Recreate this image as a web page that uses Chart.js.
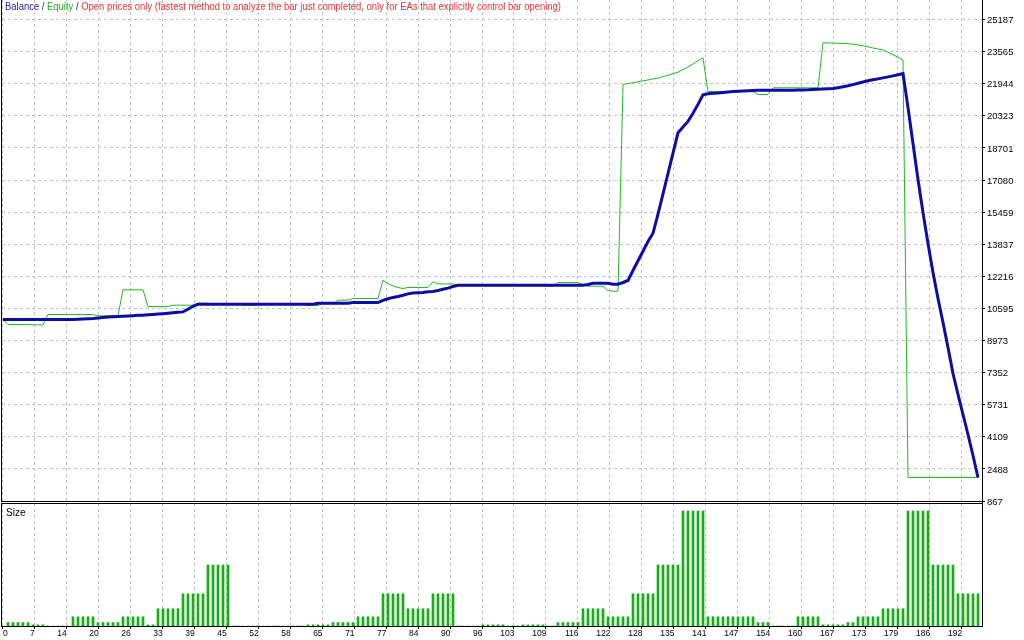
<!DOCTYPE html>
<html><head><meta charset="utf-8">
<script src="https://cdn.jsdelivr.net/npm/chart.js@4.4.1/dist/chart.umd.min.js"></script>
<style>
html,body{margin:0;padding:0;background:#fff;}
#wrap{position:relative;width:1024px;height:640px;overflow:hidden;background:#fff;}
canvas{position:absolute;left:0;}
#main{top:0;}
#size{top:503px;}
</style></head><body>
<div id="wrap"><canvas id="main" width="1024" height="520" style="width:1024px;height:520px"></canvas><canvas id="size" width="1024" height="137" style="width:1024px;height:137px"></canvas></div>
<script>
// ---- data ----
const BALANCE = [
10034,10034,10034,10034,10034,10034,10034,10034,10034,10034,10034,10034,10034,10034,10034,
10045,10060,10075,10085,
10110,10140,10160,10175,10186,
10200,10215,10230,10245,10252,
10270,10290,10310,10330,10353,
10380,10400,10420,
10550,10700,10807,
10807,10807,10807,10807,10807,10807,10807,10807,10807,10807,10807,10807,10807,10807,10807,10807,10807,10807,10807,10807,10807,10807,10807,
10858,10858,10858,10858,10858,10858,10858,
10890,10890,10890,10890,10890,10890,
11000,11080,11150,11200,11260,
11330,11370,11383,11400,11434,
11450,11500,11560,11620,11700,
11767,11767,11767,11767,11767,11767,11767,11767,11767,11767,11767,11767,11767,11767,11767,11767,11767,11767,11767,11767,11767,11767,11767,11767,11767,11767,
11800,
11860,11860,11860,11860,
11820,11820,
11904,12005,12510,13000,13484,13975,14390,
15354,16384,17409,18434,19465,
19753,20041,20450,20900,21380,
21440,21460,21480,21505,21530,21550,21565,21580,21595,21605,
21610,21615,21620,21620,21620,21620,21620,21620,21625,21630,
21635,21650,21665,21680,21690,21703,21745,21790,21840,21900,
21965,22030,22090,22140,22190,22240,22290,22340,22400,22460,
20743,18924,17106,15439,13873,12409,11095,9883,8620,7307,
6246,5236,4226,3165,2054
];
const EQUITY = [
10034,
9781,9781,9781,9781,9781,
9764,9764,9764,
10287,10287,10287,10287,10287,10287,10287,10287,10287,10287,
10220,10220,10220,10220,10220,
11535,11535,11535,11535,11535,
10692,10692,10692,10692,10692,
10757,10757,10757,10757,10757,
10858,10858,10858,
10807,10807,10807,10807,10807,10807,
10757,10757,10757,
10807,10807,10807,10807,10807,10807,10807,10807,10807,10807,
10742,10742,10742,
10828,10828,10828,
11010,11010,11010,
11095,11095,11095,11095,11095,11095,
12020,11850,11730,11650,11600,
11650,11650,11650,11650,11650,
11938,
11830,11830,11830,11830,
11767,11767,11767,11767,11767,11767,11767,11767,11767,11767,11767,11767,11767,11767,11767,11767,11767,11767,
11717,11717,
11903,11903,11903,11903,11903,
11800,
11717,11717,11717,11717,
11500,
11464,11464,
21904,21950,21995,22040,22090,22135,22185,22230,22300,22370,22450,22526,22660,22790,22940,23100,23253,
21550,21550,21550,21550,21550,21550,21550,21550,21550,21550,
21400,21400,21400,
21738,21738,21738,21738,21738,21738,21738,21738,21738,21738,
24014,24005,23995,23985,23980,23970,23935,23900,23860,23810,23750,23700,23644,23530,23410,23280,23140,
2054,2054,2054,2054,2054,2054,2054,2054,2054,2054,2054,2054,2054,2054,2054
];
// lot size of trades 1..195
const SIZES = [
0.03,0.03,0.03,0.03,0.03, 0.01,0.01,0.01, 0,0,0,0,0,
0.08,0.08,0.08,0.08,0.08, 0.03,0.03,0.03,0.03,0.03, 0.08,0.08,0.08,0.08,0.08, 0.01,0.01,
0.15,0.15,0.15,0.15,0.15, 0.28,0.28,0.28,0.28,0.28, 0.53,0.53,0.53,0.53,0.53,
0,0,0,0,0,0,0,0,0,0,0,0,0,0,0,
0.01,0.01,0.01,0.01,0.01, 0.03,0.03,0.03,0.03,0.03, 0.08,0.08,0.08,0.08,0.08,
0.28,0.28,0.28,0.28,0.28, 0.15,0.15,0.15,0.15,0.15, 0.28,0.28,0.28,0.28,0.28,
0,0,0,0,0, 0.01,0.01,0.01,0.01,0.01, 0,0,0, 0.01,0.01,0.01,0.01,0.01, 0,0,
0.03,0.03,0.03,0.03,0.03, 0.15,0.15,0.15,0.15,0.15, 0.08,0.08,0.08,0.08,0.08,
0.28,0.28,0.28,0.28,0.28, 0.53,0.53,0.53,0.53,0.53, 1.00,1.00,1.00,1.00,1.00,
0.08,0.08,0.08,0.08,0.08,0.08,0.08,0.08,0.08,0.08, 0.03,0.03,0.03, 0,0,0,0,0,
0.08,0.08,0.08,0.08,0.08, 0.01,0.01,0.01,0.01,0.01, 0.03,0.03,
0.08,0.08,0.08,0.08,0.08, 0.15,0.15,0.15,0.15,0.15,
1.00,1.00,1.00,1.00,1.00, 0.53,0.53,0.53,0.53,0.53, 0.28,0.28,0.28,0.28,0.28
];
const Y_TICKS = [867,2488,4109,5731,7352,8973,10595,12216,13837,15459,17080,18701,20323,21944,23565,25187];
const X_LABELS = ['0','7','14','20','26','33','39','45','52','58','65','71','77','84','90','96','103','109','116','122','128','135','141','147','154','160','167','173','179','186','192'];
const TITLE_PARTS = ['Balance',' / ','Equity',' / ','Open prices only (fastest method to analyze the bar just completed, only for EAs that explicitly control bar opening)'];
const SIZE_LABEL = 'Size';

// ---- layout / style ----
const TITLE_COLORS = ['#2424B4','#1C1C5C','#22B022','#1C1C5C','#F53232'];
const GRID = '#C4C4C4';
const FONT = 'Liberation Sans';
const X_MIN = -0.2, X_MAX = 195.8;
const X_GRID_START = -0.14, X_GRID_STEP = 6.396;
const Y_MIN = 867, Y_MAX = 26173;

const balancePts = BALANCE.map((v, j) => ({x: j, y: v}));
const equityPts = EQUITY.map((v, j) => ({x: j, y: v}));
const sizePts = SIZES.map((v, i) => ({x: i + 1, y: v}));

function xGridTicks(s) { s.ticks = X_LABELS.map((_, k) => ({value: X_GRID_START + k * X_GRID_STEP})); }

const mainDecor = {
  id: 'mainDecor',
  afterDraw(chart) {
    const {ctx, chartArea: a} = chart;
    ctx.save();
    ctx.strokeStyle = '#000'; ctx.lineWidth = 1; ctx.setLineDash([]);
    ctx.beginPath();
    ctx.moveTo(a.left - 0.5, a.top); ctx.lineTo(a.left - 0.5, a.bottom + 1);
    ctx.moveTo(a.left - 1, a.bottom + 0.5); ctx.lineTo(a.right + 1, a.bottom + 0.5);
    ctx.moveTo(a.right + 0.5, a.top); ctx.lineTo(a.right + 0.5, chart.height);
    ctx.stroke();
    ctx.font = '10px "' + FONT + '"';
    ctx.textBaseline = 'alphabetic'; ctx.textAlign = 'left';
    let total = 0;
    TITLE_PARTS.forEach(t => total += ctx.measureText(t).width);
    const f = 556 / total;
    ctx.translate(5, 10); ctx.scale(f, 1);
    let cx = 0;
    TITLE_PARTS.forEach((t, i) => { ctx.fillStyle = TITLE_COLORS[i]; ctx.fillText(t, cx, 0); cx += ctx.measureText(t).width; });
    ctx.restore();
  }
};

const sizeDecor = {
  id: 'sizeDecor',
  afterDraw(chart) {
    const {ctx, chartArea: a} = chart;
    const xs = chart.scales.x;
    ctx.save();
    ctx.strokeStyle = '#000'; ctx.lineWidth = 1; ctx.setLineDash([]);
    ctx.beginPath();
    ctx.moveTo(a.left - 1, 0.5); ctx.lineTo(a.right + 1, 0.5);
    ctx.moveTo(a.left - 0.5, 0); ctx.lineTo(a.left - 0.5, a.bottom + 1);
    ctx.moveTo(a.right + 0.5, 0); ctx.lineTo(a.right + 0.5, a.bottom + 1);
    ctx.moveTo(a.left - 1, a.bottom + 0.5); ctx.lineTo(a.right + 1, a.bottom + 0.5);
    ctx.stroke();
    ctx.fillStyle = '#000';
    ctx.font = '10px "' + FONT + '"';
    ctx.textBaseline = 'alphabetic'; ctx.textAlign = 'left';
    ctx.fillText(SIZE_LABEL, 6, 12.5);
    ctx.font = '8.5px "' + FONT + '"';
    ctx.textBaseline = 'middle';
    xs.ticks.forEach((t, k) => {
      const px = xs.getPixelForValue(t.value);
      if (k === 0) { ctx.textAlign = 'left'; ctx.fillText(X_LABELS[k], a.left + 1, a.bottom + 7.5); }
      else { ctx.textAlign = 'right'; ctx.fillText(X_LABELS[k], px + 0.5, a.bottom + 7.5); }
    });
    ctx.restore();
  }
};

const base = {responsive: false, animation: false, devicePixelRatio: 1, events: []};

new Chart(document.getElementById('main'), {
  type: 'line',
  data: {datasets: [
    {label: 'Balance', data: balancePts, borderColor: '#0D0DA5', borderWidth: 3, pointRadius: 0, tension: 0, fill: false},
    {label: 'Equity', data: equityPts, borderColor: '#22BB22', borderWidth: 1, pointRadius: 0, tension: 0, fill: false}
  ]},
  options: Object.assign({}, base, {
    layout: {padding: {left: 2, top: 0, right: 0, bottom: 19}},
    plugins: {legend: {display: false}, tooltip: {enabled: false}, title: {display: false}},
    scales: {
      x: {type: 'linear', min: X_MIN, max: X_MAX, bounds: 'data', offset: false,
        afterBuildTicks: xGridTicks,
        afterFit: s => { s.paddingLeft = 0; s.paddingRight = 0; },
        ticks: {display: false},
        grid: {display: true, color: GRID, lineWidth: 1, drawTicks: false, offset: false},
        border: {display: false, dash: [3, 3]}},
      y: {position: 'right', min: Y_MIN, max: Y_MAX, bounds: 'data',
        afterBuildTicks: s => { s.ticks = Y_TICKS.map(v => ({value: v})); },
        afterFit: s => { s.width = 42; s.paddingTop = 0; s.paddingBottom = 0; },
        ticks: {color: '#000', font: {family: FONT, size: 9.5}, padding: 2, labelOffset: 1, autoSkip: false, callback: v => String(v)},
        grid: {color: GRID, lineWidth: 1, drawTicks: true, tickLength: 3, tickColor: '#000', tickBorderDash: []},
        border: {display: false, dash: [3, 3]}}
    }
  }),
  plugins: [mainDecor]
});

new Chart(document.getElementById('size'), {
  type: 'bar',
  data: {datasets: [
    {label: 'Size', data: sizePts, backgroundColor: '#12B012', borderWidth: 0, barThickness: 2}
  ]},
  options: Object.assign({}, base, {
    layout: {padding: {left: 2, top: 0, right: 42, bottom: 11}},
    plugins: {legend: {display: false}, tooltip: {enabled: false}, title: {display: false}},
    scales: {
      x: {type: 'linear', min: X_MIN, max: X_MAX, bounds: 'data', offset: false,
        afterBuildTicks: xGridTicks,
        afterFit: s => { s.paddingLeft = 0; s.paddingRight = 0; },
        ticks: {display: false},
        grid: {display: true, color: GRID, lineWidth: 1, drawTicks: true, tickLength: 3, tickColor: '#000', tickBorderDash: [], offset: false},
        border: {display: false, dash: [3, 3]}},
      y: {display: false, min: 0, max: 1.07}
    }
  }),
  plugins: [sizeDecor]
});
</script>
</body></html>
